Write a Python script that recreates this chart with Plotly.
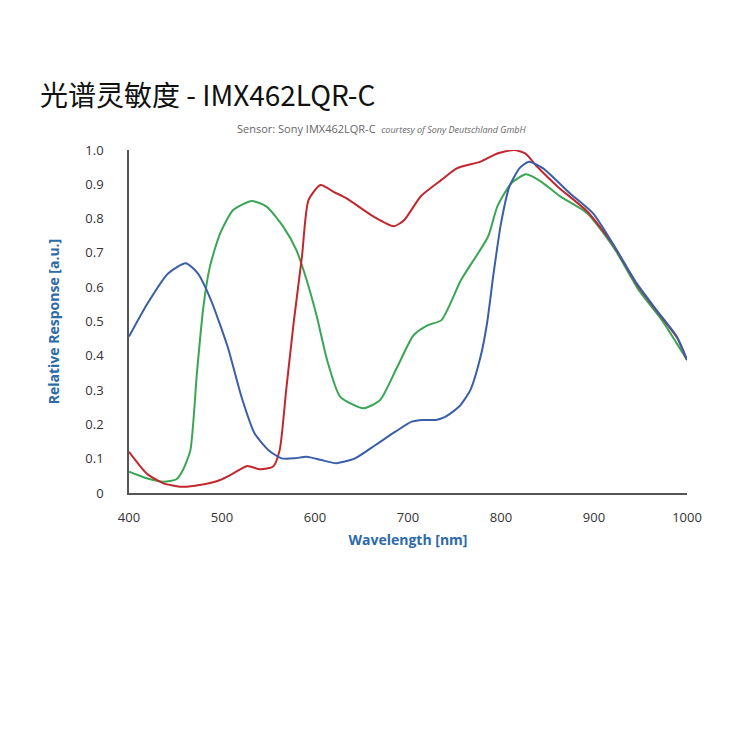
import plotly.graph_objects as go

# 光谱响应曲线
blue_wl = [400, 420, 442, 461, 474, 488, 506, 521, 535, 550, 564, 578, 591, 607, 623, 643, 665, 686,
           704, 716, 730, 740, 755, 767, 778, 785, 792, 800, 809, 820, 830, 845, 874, 899, 920, 946,
           967, 989, 1000]
blue_val = [0.456, 0.553, 0.640, 0.670, 0.640, 0.563, 0.427, 0.280, 0.174, 0.125, 0.101, 0.101, 0.106,
            0.096, 0.087, 0.101, 0.140, 0.178, 0.208, 0.213, 0.213, 0.222, 0.252, 0.300, 0.397, 0.495,
            0.640, 0.786, 0.893, 0.947, 0.966, 0.947, 0.874, 0.815, 0.728, 0.611, 0.534, 0.456, 0.388]

red_wl = [400, 419, 437, 457, 476, 498, 512, 527, 541, 555, 562, 569, 577, 586, 593, 606, 620, 634,
          663, 685, 696, 714, 736, 753, 778, 796, 814, 826, 839, 861, 893, 920, 946, 967, 989, 1000]
red_val = [0.120, 0.057, 0.028, 0.018, 0.023, 0.038, 0.057, 0.079, 0.069, 0.077, 0.125, 0.300, 0.495,
           0.690, 0.854, 0.898, 0.878, 0.859, 0.806, 0.778, 0.796, 0.866, 0.913, 0.947, 0.966, 0.990,
           1.000, 0.990, 0.951, 0.893, 0.820, 0.726, 0.608, 0.532, 0.454, 0.388]

green_wl = [400, 419, 437, 451, 458, 466, 473, 480, 487, 498, 512, 532, 548, 566, 580, 591, 602, 613,
            627, 652, 670, 688, 706, 722, 736, 757, 786, 796, 811, 827, 843, 864, 893, 923, 948, 973, 1000]
green_val = [0.062, 0.043, 0.033, 0.040, 0.067, 0.125, 0.349, 0.543, 0.660, 0.757, 0.825, 0.851, 0.835,
             0.776, 0.708, 0.621, 0.514, 0.388, 0.281, 0.247, 0.271, 0.365, 0.460, 0.490, 0.504, 0.621,
             0.747, 0.835, 0.903, 0.929, 0.908, 0.864, 0.815, 0.708, 0.592, 0.504, 0.388]

x_ticks = [400, 500, 600, 700, 800, 900, 1000]
y_ticks = [0, 0.1, 0.2, 0.3, 0.4, 0.5, 0.6, 0.7, 0.8, 0.9, 1.0]
y_ticktext = ["0", "0.1", "0.2", "0.3", "0.4", "0.5", "0.6", "0.7", "0.8", "0.9", "1.0"]

AXIS_BLUE = "#2d6aa8"

fig = go.Figure()
for wl, val, color in [(green_wl, green_val, "#3aa655"),
                       (red_wl, red_val, "#c1272d"),
                       (blue_wl, blue_val, "#3a5ea8")]:
    fig.add_trace(go.Scatter(x=wl, y=val, mode="lines",
                             line=dict(color=color, width=2, shape="spline", smoothing=0.6),
                             showlegend=False, hoverinfo="skip"))

fig.update_layout(
    width=750, height=750,
    paper_bgcolor="white", plot_bgcolor="white",
    margin=dict(l=121, r=71, t=142, b=265),
    font=dict(family="Open Sans, DejaVu Sans", color="#333333"),
    xaxis=dict(range=[400, 1000], tickvals=x_ticks, showgrid=False, zeroline=False,
               showline=True, linecolor="#555555", linewidth=1.5, ticks="",
               ticklabelstandoff=12, tickfont=dict(size=13, color="#333333"),
               title=dict(text="<b>Wavelength [nm]</b>", standoff=10,
                          font=dict(size=14, color=AXIS_BLUE))),
    yaxis=dict(range=[0, 1.0], tickvals=y_ticks, ticktext=y_ticktext, showgrid=False, zeroline=False,
               showline=True, linecolor="#555555", linewidth=1.5, ticks="",
               ticklabelstandoff=21, tickfont=dict(size=13, color="#333333"),
               title=dict(text="<b>Relative Response [a.u.]</b>", standoff=22,
                          font=dict(size=14, color=AXIS_BLUE))),
)

fig.add_annotation(text="光谱灵敏度 - IMX462LQR-C", xref="paper", yref="paper",
                   x=-0.163, y=1.163, xanchor="left", yanchor="middle", showarrow=False,
                   font=dict(family="Noto Sans CJK SC", size=28, color="#111111"))
fig.add_annotation(text="Sensor: Sony IMX462LQR-C  <i><span style='font-size:9px'>courtesy of Sony Deutschland GmbH</span></i>",
                   xref="paper", yref="paper", x=0.453, y=1.064, xanchor="center", yanchor="middle",
                   showarrow=False, font=dict(size=11, color="#666666"))

fig.write_html("out.html")
